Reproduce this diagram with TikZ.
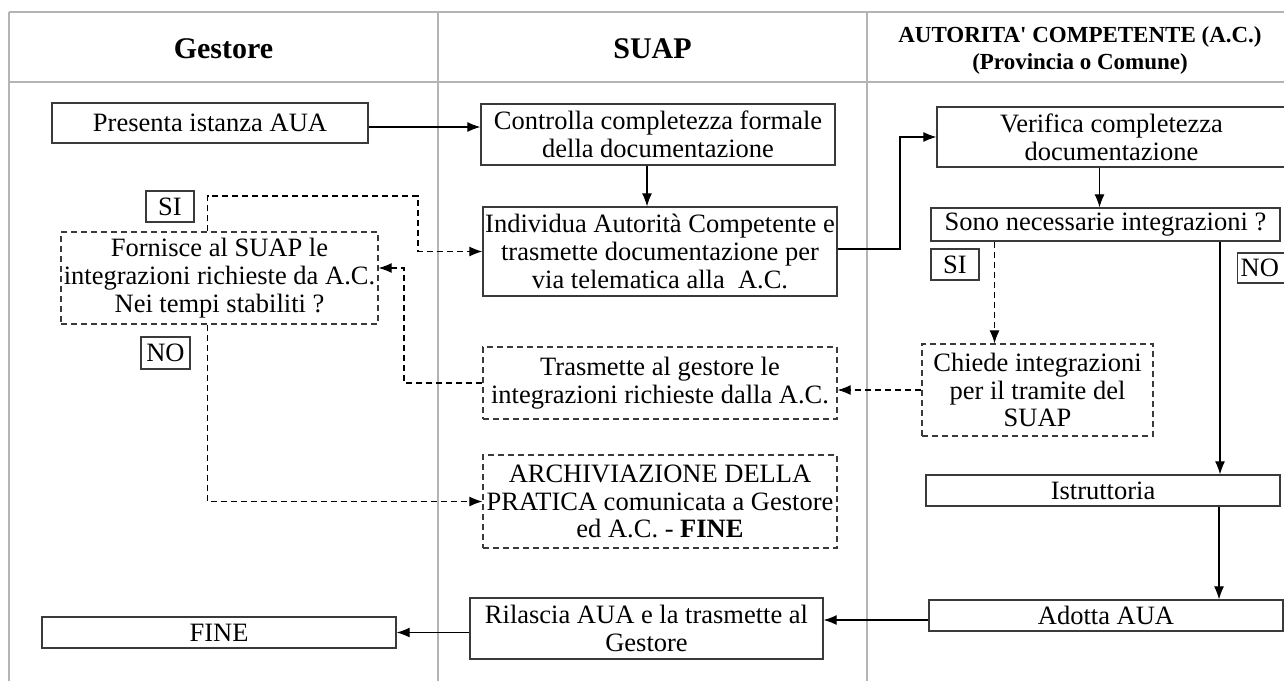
\documentclass[tikz,border=0pt]{standalone}
\usepackage{fontspec}
\setmainfont{Liberation Serif}[Ligatures=TeXOff]
\usetikzlibrary{arrows.meta}
\newcommand{\bodyfont}{\fontsize{26.5}{27.8}\selectfont}
\definecolor{framecol}{HTML}{B4B4B4}
\definecolor{boxcol}{HTML}{3A3A3A}
\begin{document}
\begin{tikzpicture}[x=1pt,y=-1pt,
  box/.style={draw=boxcol, line width=1.3pt, inner sep=0pt, align=center, font=\bodyfont, fill=white},
  dbox/.style={box, dash pattern=on 6pt off 4pt},
  lab/.style={draw=boxcol, line width=1.2pt, inner sep=0pt, font=\bodyfont, fill=white},
  conn/.style={line width=1.1pt, -{Latex[length=13pt,width=10pt]}},
  dconn/.style={conn, dash pattern=on 6pt off 4pt},
  frameline/.style={draw=framecol, line width=1.5pt},
  hfont/.style={font=\fontsize{30}{32}\selectfont\bfseries}]
\useasboundingbox (0,0) rectangle (1284,680);
\clip (0,0) rectangle (1284,680);
\fill[white] (0,0) rectangle (1284,680);
% frame
\draw[frameline] (9,12) -- (1300,12);
\draw[frameline] (9,82) -- (1300,82);
\draw[frameline] (9,12) -- (9,700);
\draw[frameline] (438,12) -- (438,700);
\draw[frameline] (867,12) -- (867,700);
% headers
\node[hfont, anchor=base] (hgest) at (223.5,58) {Gestore};
\node[hfont, anchor=base] (hsuap) at (652.5,58) {SUAP};
\node[font=\fontsize{23}{27}\selectfont\bfseries, align=center] (hac) at (1080,50) {AUTORITA' COMPETENTE (A.C.)\\(Provincia o Comune)};
% boxes
\node[box, minimum width=316pt, minimum height=40pt] (presenta) at (210,123) {Presenta istanza AUA};
\node[box, minimum width=354pt, minimum height=61pt] (controlla) at (658,134.5) {Controlla completezza formale\\della documentazione};
\node[box, minimum width=354pt, minimum height=89pt] (individua) at (660,251.5) {Individua Autorità Competente e\\trasmette documentazione per\\via telematica alla\ \ A.C.};
\node[box, minimum width=349pt, minimum height=60pt] (verifica) at (1111.5,137) {Verifica completezza\\documentazione};
\node[box, minimum width=349pt, minimum height=33pt] (sono) at (1105.5,224.5) {Sono necessarie integrazioni ?};
\node[lab, minimum width=48pt, minimum height=31pt] (siR) at (955,264.5) {SI};
\node[lab, anchor=west, minimum height=30pt, text width=50pt, align=left, inner xsep=3pt] (noR) at (1237,268) {NO};
\node[dbox, minimum width=231pt, minimum height=92pt] (chiede) at (1037.5,390) {Chiede integrazioni\\per il tramite del\\SUAP};
\node[dbox, minimum width=354pt, minimum height=72pt] (trasmette) at (660,383) {Trasmette al gestore le\\integrazioni richieste dalla A.C.};
\node[dbox, minimum width=354pt, minimum height=93pt] (archiv) at (660,501.5) {ARCHIVIAZIONE DELLA\\PRATICA comunicata a Gestore\\ed A.C. - \textbf{FINE}};
\node[box, minimum width=353pt, minimum height=61pt] (rilascia) at (646.5,628.5) {Rilascia AUA e la trasmette al\\Gestore};
\node[box, minimum width=354pt, minimum height=31pt] (adotta) at (1106,615.5) {Adotta AUA};
\node[box, minimum width=354pt, minimum height=31pt] (istrutt) at (1103,490.5) {Istruttoria};
\node[box, minimum width=354pt, minimum height=31pt] (fine) at (219,632.5) {FINE};
\node[dbox, minimum width=317pt, minimum height=92pt] (fornisce) at (219.5,278) {Fornisce al SUAP le\\integrazioni richieste da A.C.\\Nei tempi stabiliti ?};
\node[lab, minimum width=48pt, minimum height=31pt] (siL) at (170,206.5) {SI};
\node[lab, minimum width=49pt, minimum height=32pt] (noL) at (165.5,353) {NO};
% helper coordinates
\coordinate (a1) at ([yshift=-4pt]presenta.east);
\coordinate (b1) at ([xshift=-11pt]controlla.south);
\coordinate (d1) at ([xshift=-12pt]verifica.south);
\coordinate (e1) at ([xshift=-111pt]sono.south);
\coordinate (f1) at ([xshift=114.5pt]sono.south);
\coordinate (g1) at ([xshift=116pt]istrutt.south);
\coordinate (h1) at ([yshift=-4.5pt]adotta.west);
\coordinate (k1) at (404,268);
\coordinate (l1) at (418,196);
\coordinate (c1) at (900,249);
% connectors
\draw[conn] (a1) -- (a1 -| controlla.west);
\draw[conn] (b1) -- (b1 |- individua.north);
\draw[conn] (individua.east |- c1) -- (c1) |- (verifica.west);
\draw[conn] (d1) -- (d1 |- sono.north);
\draw[dconn] (e1) -- (e1 |- chiede.north);
\draw[conn] (f1) -- (f1 |- istrutt.north);
\draw[conn] (g1) -- (g1 |- adotta.north);
\draw[conn] (h1) -- (h1 -| rilascia.east);
\draw[conn] (fine.east -| rilascia.west) -- (fine.east);
\draw[dconn] (chiede.west) -- (chiede.west -| trasmette.east);
\draw[dconn] (trasmette.west) -| (k1) -- (k1 -| fornisce.east);
\draw[dconn] ([xshift=-12pt]fornisce.north) |- (l1) |- (individua.west);
\draw[dconn] ([xshift=-12pt]fornisce.south) |- (archiv.west);
\end{tikzpicture}
\end{document}
